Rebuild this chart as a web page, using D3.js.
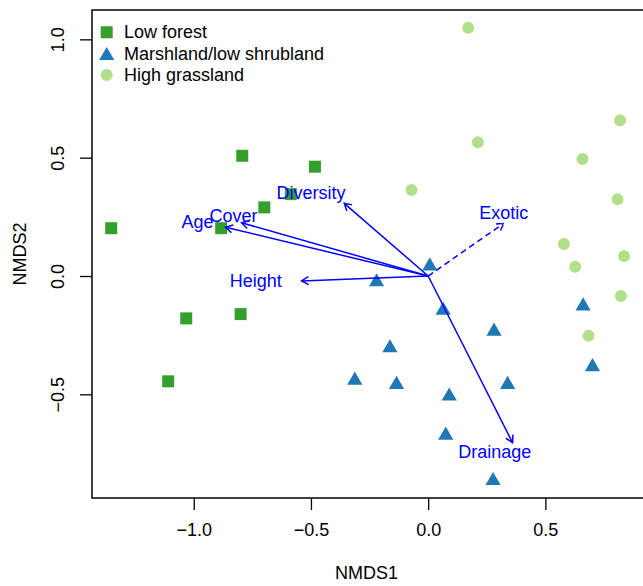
<!DOCTYPE html>
<html>
<head>
<meta charset="utf-8">
<script src="https://cdn.jsdelivr.net/npm/d3@7"></script>
<style>
  body { margin: 0; background: #fff; }
  svg text { font-family: "Liberation Sans", Arial, sans-serif; }
</style>
</head>
<body>
<svg id="chart" width="643" height="586"></svg>
<script>
// site scores (NMDS1, NMDS2) per group
const lowForest = [
  [-1.352, 0.202], [-0.883, 0.202], [-0.793, 0.508], [-0.483, 0.462],
  [-0.586, 0.346], [-0.699, 0.290], [-1.032, -0.179], [-0.800, -0.161],
  [-1.109, -0.445]
];
const marshland = [
  [0.007, 0.042], [-0.220, -0.025], [0.064, -0.145], [0.281, -0.234],
  [-0.163, -0.304], [-0.313, -0.441], [-0.135, -0.459], [0.090, -0.508],
  [0.339, -0.459], [0.075, -0.673], [0.277, -0.865], [0.661, -0.127],
  [0.701, -0.384]
];
const highGrass = [
  [0.819, 0.658], [0.658, 0.494], [0.808, 0.324], [0.579, 0.135],
  [0.836, 0.084], [0.627, 0.039], [0.822, -0.084], [0.684, -0.252],
  [0.171, 1.049], [0.212, 0.565], [-0.071, 0.363]
];
const groupNames = ['Low forest', 'Marshland/low shrubland', 'High grassland'];
const groupColors = ['#33a02c', '#1f78b4', '#b2df8a'];

// envfit vectors: name, arrow tip, label position, dashed (not significant)
const vecNames = ['Drainage', 'Height', 'Age', 'Cover', 'Diversity', 'Exotic'];
const vecTips = [[0.360, -0.704], [-0.540, -0.021], [-0.864, 0.206], [-0.796, 0.225], [-0.358, 0.307], [0.323, 0.223]];
const vecLabels = [[0.284, -0.742], [-0.735, -0.021], [-0.984, 0.229], [-0.830, 0.253], [-0.500, 0.352], [0.322, 0.267]];
const vecDashed = [false, false, false, false, false, true];

const xTicks = [-1.0, -0.5, 0.0, 0.5];
const yTicks = [-0.5, 0.0, 0.5, 1.0];

const svg = d3.select('#chart');
const mLeft = 92, mRight = 645, mTop = 10, mBottom = 498;

const x = d3.scaleLinear().domain([-1.434, 0.925]).range([mLeft, mRight]);
const y = d3.scaleLinear().domain([-0.938, 1.124]).range([mBottom, mTop]);

const fmt = d3.format('.1f');

// axes
const xAxis = svg.append('g')
  .attr('transform', `translate(0,${mBottom})`)
  .call(d3.axisBottom(x).tickValues(xTicks).tickFormat(fmt).tickSize(12).tickSizeOuter(0));
xAxis.select('.domain').remove();
xAxis.selectAll('line').attr('stroke', '#000').attr('stroke-width', 1.3);
xAxis.selectAll('text').attr('font-size', 18).attr('fill', '#000').attr('y', 25);

const yAxis = svg.append('g')
  .attr('transform', `translate(${mLeft},0)`)
  .call(d3.axisLeft(y).tickValues(yTicks).tickFormat(fmt).tickSize(12).tickSizeOuter(0));
yAxis.select('.domain').remove();
yAxis.selectAll('line').attr('stroke', '#000').attr('stroke-width', 1.3);
yAxis.selectAll('text')
  .attr('font-size', 18).attr('fill', '#000')
  .attr('x', null).attr('dy', null)
  .attr('text-anchor', 'middle')
  .attr('dominant-baseline', 'central')
  .attr('transform', 'translate(-34,0) rotate(-90)');

// plot box
svg.append('rect')
  .attr('x', mLeft).attr('y', mTop)
  .attr('width', mRight - mLeft).attr('height', mBottom - mTop)
  .attr('fill', 'none').attr('stroke', '#000').attr('stroke-width', 1.5);

// axis titles
svg.append('text')
  .attr('x', (mLeft + 641) / 2).attr('y', 573)
  .attr('text-anchor', 'middle').attr('dominant-baseline', 'central')
  .attr('font-size', 18).text('NMDS1');
svg.append('text')
  .attr('transform', `translate(20,${(mTop + mBottom) / 2}) rotate(-90)`)
  .attr('text-anchor', 'middle').attr('dominant-baseline', 'central')
  .attr('font-size', 18).text('NMDS2');

// points
const symbols = [d3.symbolSquare, d3.symbolTriangle, d3.symbolCircle];
const sizes = [144, 100, 113];
[lowForest, marshland, highGrass].forEach((pts, i) => {
  svg.append('g').selectAll('path')
    .data(pts)
    .join('path')
    .attr('d', d3.symbol().type(symbols[i]).size(sizes[i]))
    .attr('transform', d => `translate(${x(d[0])},${y(d[1])})`)
    .attr('fill', groupColors[i]);
});

// envfit arrows
const blue = '#0000ff';
const arrows = svg.append('g');
vecTips.forEach((t, i) => {
  const x0 = x(0), y0 = y(0), x1 = x(t[0]), y1 = y(t[1]);
  arrows.append('line')
    .attr('x1', x0).attr('y1', y0).attr('x2', x1).attr('y2', y1)
    .attr('stroke', blue).attr('stroke-width', 1.5)
    .attr('stroke-dasharray', vecDashed[i] ? '6,4' : null);
  const ang = Math.atan2(y1 - y0, x1 - x0);
  const len = 8, spread = Math.PI / 6;
  const head = d3.path();
  head.moveTo(x1 - len * Math.cos(ang - spread), y1 - len * Math.sin(ang - spread));
  head.lineTo(x1, y1);
  head.lineTo(x1 - len * Math.cos(ang + spread), y1 - len * Math.sin(ang + spread));
  arrows.append('path')
    .attr('d', head.toString())
    .attr('fill', 'none').attr('stroke', blue).attr('stroke-width', 1.5)
    .attr('stroke-dasharray', vecDashed[i] ? '6,4' : null);
  arrows.append('text')
    .attr('x', x(vecLabels[i][0])).attr('y', y(vecLabels[i][1]))
    .attr('text-anchor', 'middle').attr('dominant-baseline', 'central')
    .attr('font-size', 18).attr('fill', blue)
    .text(vecNames[i]);
});

// legend
const legend = svg.append('g');
groupNames.forEach((name, i) => {
  const ly = 32.3 + i * 21.4;
  legend.append('path')
    .attr('d', d3.symbol().type(symbols[i]).size(sizes[i]))
    .attr('transform', `translate(106.7,${ly + (i === 1 ? 2 : 0)})`)
    .attr('fill', groupColors[i]);
  legend.append('text')
    .attr('x', 124).attr('y', ly)
    .attr('dominant-baseline', 'central')
    .attr('font-size', 18).attr('fill', '#000')
    .text(name);
});
</script>
</body>
</html>
